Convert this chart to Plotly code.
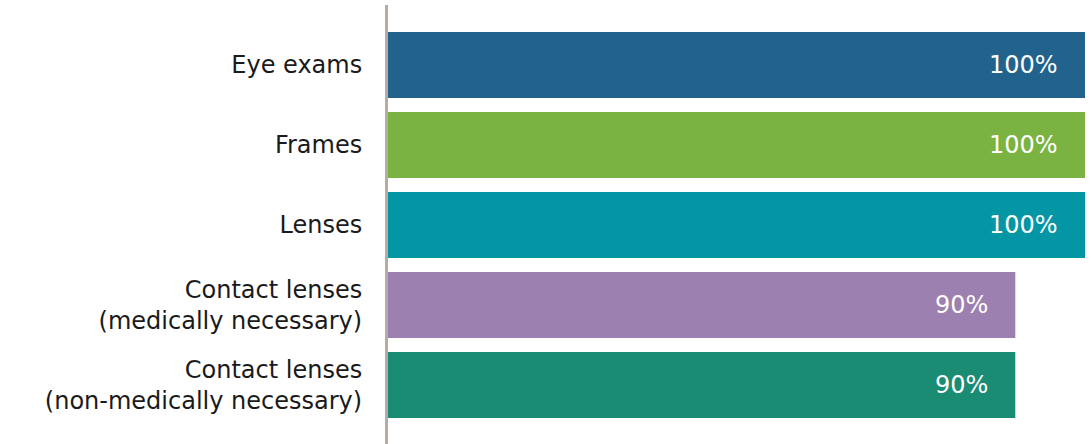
import plotly.graph_objects as go

# Vision coverage levels by service
categories = [
    "Eye exams",
    "Frames",
    "Lenses",
    "Contact lenses<br>(medically necessary)",
    "Contact lenses<br>(non-medically necessary)",
]
coverage = [100, 100, 100, 90, 90]
bar_colors = ["#21638d", "#7ab342", "#0596a6", "#9b80b0", "#1a8c74"]
value_labels = [f"{v}%" for v in coverage]

FONT = "DejaVu Sans"

fig = go.Figure(
    go.Bar(
        x=coverage,
        y=categories,
        orientation="h",
        marker=dict(color=bar_colors, line=dict(width=0)),
        hoverinfo="skip",
    )
)

# Percent labels inside the end of each bar
for cat, val, lab in zip(categories, coverage, value_labels):
    fig.add_annotation(
        x=val, y=cat, text=lab, showarrow=False,
        xanchor="right", xshift=-25,
        font=dict(family=FONT, size=24, color="white"),
    )

fig.update_layout(
    width=1091, height=444,
    margin=dict(l=388, r=6, t=5, b=0),
    paper_bgcolor="white", plot_bgcolor="white",
    bargap=0.175,
    showlegend=False,
    font=dict(family=FONT, size=24, color="#1a1a1a"),
)
fig.update_xaxes(range=[0, 100], visible=False, fixedrange=True)
fig.update_yaxes(
    range=[4.7375, -0.75],
    showline=True, linecolor="#b6aca6", linewidth=3,
    showgrid=False, zeroline=False,
    ticks="", ticklabelstandoff=18,
    tickfont=dict(family=FONT, size=24, color="#1a1a1a"),
)

fig.write_html("out.html")
